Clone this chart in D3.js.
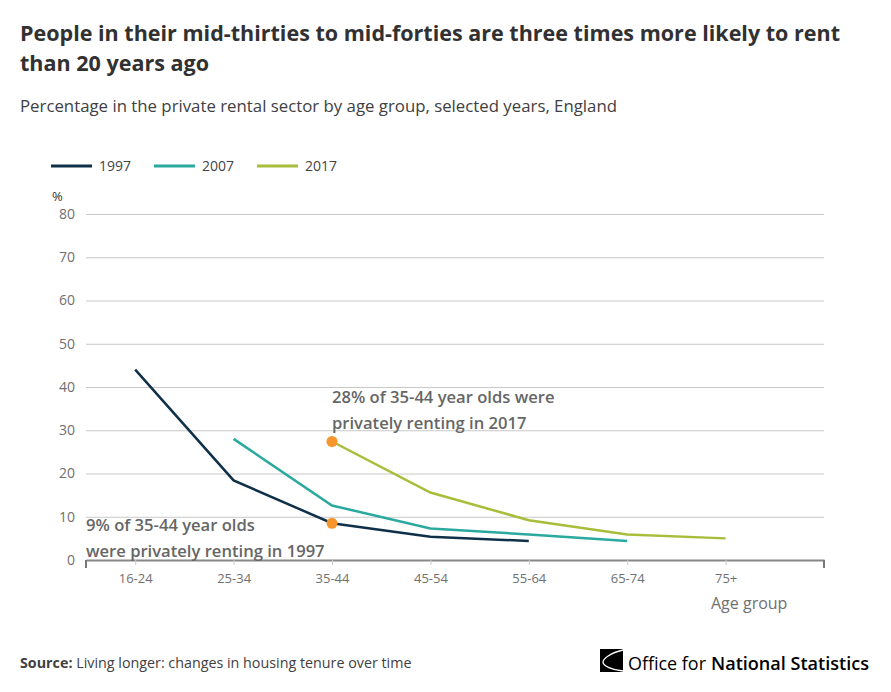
<!DOCTYPE html>
<html>
<head>
<meta charset="utf-8">
<script src="https://cdn.jsdelivr.net/npm/d3@7"></script>
<style>
  body { margin: 0; background: #fff; }
  text { font-family: "Open Sans", sans-serif; }
</style>
</head>
<body>
<svg id="chart"></svg>
<script>
// age groups on the x axis
const ageGroups = ['16-24', '25-34', '35-44', '45-54', '55-64', '65-74', '75+'];
// percentage in private rental sector, by age group (null = not shown)
const years = ['1997', '2007', '2017'];
const values1997 = [44, 18.4, 8.5, 5.4, 4.4, null, null];
const values2007 = [null, 28, 12.6, 7.3, 5.9, 4.4, null];
const values2017 = [null, null, 27.4, 15.6, 9.2, 5.9, 5.0];
const yTicks = [0, 10, 20, 30, 40, 50, 60, 70, 80];
const colours = ['#0f3049', '#2aa99f', '#a8bd3a'];

const series = [values1997, values2007, values2017].map((vals, i) => ({
    year: years[i],
    colour: colours[i],
    points: vals.map((v, j) => ({ i: j, v })).filter((d) => d.v !== null)
}));

const W = 891, H = 692;
const svg = d3.select('#chart').attr('width', W).attr('height', H);

const margin = { top: 214, left: 86, right: 67, bottom: 132 };
const width = W - margin.left - margin.right;
const height = H - margin.top - margin.bottom;

// Titles
svg.append('text').attr('x', 20).attr('y', 41)
    .attr('font-size', 21).attr('font-weight', 700).attr('fill', '#323132')
    .attr('textLength', 820).attr('lengthAdjust', 'spacingAndGlyphs')
    .text('People in their mid-thirties to mid-forties are three times more likely to rent');
svg.append('text').attr('x', 20).attr('y', 71)
    .attr('font-size', 21).attr('font-weight', 700).attr('fill', '#323132')
    .attr('textLength', 189).attr('lengthAdjust', 'spacingAndGlyphs')
    .text('than 20 years ago');
svg.append('text').attr('x', 20).attr('y', 112)
    .attr('font-size', 17).attr('fill', '#414042')
    .attr('textLength', 597).attr('lengthAdjust', 'spacingAndGlyphs')
    .text('Percentage in the private rental sector by age group, selected years, England');

// Legend
const legend = svg.append('g').attr('transform', 'translate(51,166)');
series.forEach((s, i) => {
    const lg = legend.append('g').attr('transform', `translate(${i * 103},0)`);
    lg.append('line').attr('x1', 0).attr('x2', 41).attr('y1', 0).attr('y2', 0)
        .attr('stroke', s.colour).attr('stroke-width', 3);
    lg.append('text').attr('x', 48).attr('y', 5).attr('font-size', 14).attr('fill', '#444')
        .text(s.year);
});

const g = svg.append('g').attr('transform', `translate(${margin.left},${margin.top})`);

const x = d3.scaleLinear().domain([-0.5, 7]).range([0, width]);
const y = d3.scaleLinear().domain([0, 80]).range([height, 0]);

// Gridlines and y labels
const yaxis = d3.axisLeft(y).tickValues(yTicks).tickSize(6).tickPadding(5);
const gy = g.append('g').call(yaxis);
gy.select('.domain').remove();
gy.selectAll('.tick line').attr('stroke', '#c8c8c8').attr('x2', width);
gy.selectAll('.tick text').attr('font-size', 14).attr('fill', '#707070')
    .attr('font-family', '"Open Sans", sans-serif');

svg.append('text').attr('x', 52).attr('y', 201).attr('font-size', 13).attr('fill', '#333').text('%');

// X axis
const xaxis = d3.axisBottom(x).tickValues(d3.range(ageGroups.length))
    .tickFormat((i) => ageGroups[i]).tickSize(5).tickPadding(9).tickSizeOuter(0);
const gx = g.append('g').attr('transform', `translate(0,${height})`).call(xaxis);
gx.select('.domain').attr('stroke', '#888').attr('stroke-width', 2);
gx.selectAll('.tick line').attr('stroke', '#ccc');
gx.selectAll('.tick text').attr('font-size', 13).attr('fill', '#707070')
    .attr('font-family', '"Open Sans", sans-serif');
// edge ticks
[-0.5, 7].forEach((v) => {
    gx.append('line').attr('x1', x(v)).attr('x2', x(v)).attr('y1', 0).attr('y2', 8)
        .attr('stroke', '#777').attr('stroke-width', 2);
});
svg.append('text').attr('x', 711).attr('y', 609).attr('font-size', 16).attr('fill', '#707070')
    .text('Age group');

// Lines
const line = d3.line().x((d) => x(d.i)).y((d) => y(d.v));
g.selectAll('path.series').data(series).enter().append('path')
    .attr('class', 'series')
    .attr('d', (d) => line(d.points))
    .attr('fill', 'none')
    .attr('stroke', (d) => d.colour)
    .attr('stroke-width', 2.5);

// Highlight dots at 35-44
const highlights = [{ i: 2, v: values1997[2] }, { i: 2, v: values2017[2] }];
g.selectAll('circle').data(highlights).enter().append('circle')
    .attr('cx', (d) => x(d.i)).attr('cy', (d) => y(d.v)).attr('r', 5.5)
    .attr('fill', '#f7962d');

// Annotations
const ann = [
    { x: 332, y: 403, t: '28% of 35-44 year olds were' },
    { x: 332, y: 429, t: 'privately renting in 2017' },
    { x: 86, y: 531, t: '9% of 35-44 year olds' },
    { x: 86, y: 557, t: 'were privately renting in 1997' }
];
svg.selectAll('text.ann').data(ann).enter().append('text')
    .attr('class', 'ann').attr('x', (d) => d.x).attr('y', (d) => d.y)
    .attr('font-size', 16.6).attr('font-weight', 600).attr('fill', '#666')
    .text((d) => d.t);

// Source
const src = svg.append('text').attr('x', 20).attr('y', 668).attr('font-size', 14.3).attr('fill', '#414042');
src.append('tspan').attr('font-weight', 700).text('Source:');
src.append('tspan').text(' Living longer: changes in housing tenure over time');

// ONS logo
const logo = svg.append('g').attr('transform', 'translate(600,649)');
logo.append('rect').attr('width', 23).attr('height', 23).attr('fill', '#000');
logo.append('path').attr('d', 'M23,1 C10,4 3,10 3,13 C3,17 12,21 23,22')
    .attr('fill', 'none').attr('stroke', '#fff').attr('stroke-width', 1.3);
svg.append('text').attr('x', 628).attr('y', 670).attr('font-size', 19).attr('fill', '#000')
    .attr('textLength', 78).attr('lengthAdjust', 'spacingAndGlyphs')
    .text('Office for');
svg.append('text').attr('x', 711).attr('y', 670).attr('font-size', 18.5).attr('font-weight', 600)
    .attr('fill', '#000')
    .attr('textLength', 158).attr('lengthAdjust', 'spacingAndGlyphs')
    .text('National Statistics');
</script>
</body>
</html>
